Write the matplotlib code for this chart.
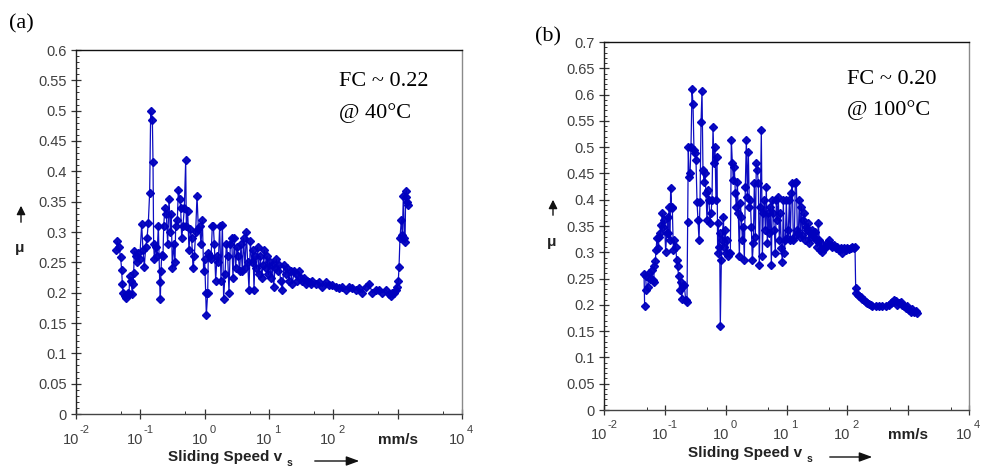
import numpy as np
import matplotlib
matplotlib.use('Agg')
import matplotlib.pyplot as plt
from matplotlib.ticker import MultipleLocator, FixedLocator, NullFormatter

# --- data (log10 of sliding speed in mm/s, friction coefficient) ---
# (a) FC ~ 0.22 @ 40 C
log_v_a = [
    -1.373, -1.358, -1.332, -1.306, -1.290, -1.280, -1.269, -1.238, -1.218, -1.197,
    -1.176, -1.166, -1.145, -1.124, -1.114, -1.104, -1.093, -1.073, -1.052, -1.031,
    -1.010, -0.979, -0.959, -0.938, -0.917, -0.896, -0.876, -0.855, -0.839, -0.813,
    -0.803, -0.793, -0.782, -0.762, -0.741, -0.720, -0.699, -0.689, -0.679, -0.668,
    -0.648, -0.637, -0.617, -0.596, -0.575, -0.554, -0.534, -0.518, -0.503, -0.482,
    -0.461, -0.451, -0.425, -0.409, -0.389, -0.373, -0.358, -0.337, -0.316, -0.295,
    -0.285, -0.264, -0.244, -0.223, -0.202, -0.181, -0.161, -0.140, -0.119, -0.098,
    -0.078, -0.057, -0.036, -0.016, 0.000, 0.016, 0.026, 0.047, 0.057, 0.078,
    0.098, 0.119, 0.135, 0.150, 0.171, 0.192, 0.212, 0.233, 0.254, 0.275,
    0.295, 0.316, 0.337, 0.358, 0.378, 0.399, 0.420, 0.440, 0.461, 0.482,
    0.503, 0.523, 0.544, 0.565, 0.585, 0.606, 0.627, 0.648, 0.668, 0.689,
    0.710, 0.731, 0.751, 0.767, 0.782, 0.803, 0.824, 0.845, 0.865, 0.886,
    0.907, 0.927, 0.948, 0.969, 0.990, 1.010, 1.031, 1.052, 1.073, 1.093,
    1.114, 1.135, 1.155, 1.181, 1.207, 1.233, 1.259, 1.285, 1.311, 1.337,
    1.363, 1.389, 1.415, 1.440, 1.466, 1.492, 1.518, 1.544, 1.570, 1.596,
    1.622, 1.648, 1.674, 1.725, 1.777, 1.829, 1.881, 1.933, 1.984, 2.036,
    2.088, 2.140, 2.192, 2.244, 2.295, 2.347, 2.399, 2.451, 2.503, 2.554,
    2.606, 2.658, 2.710, 2.762, 2.813, 2.865, 2.891, 2.917, 2.943, 2.969,
    2.995, 3.010, 3.021, 3.036, 3.057, 3.073, 3.088, 3.104, 3.114, 3.124,
    3.135, 3.145, 3.155,
]
mu_a = [
    0.270, 0.285, 0.275, 0.258, 0.237, 0.215, 0.200, 0.195, 0.192, 0.200,
    0.197, 0.227, 0.220, 0.197, 0.215, 0.232, 0.268, 0.260, 0.250, 0.265,
    0.255, 0.313, 0.270, 0.243, 0.275, 0.290, 0.315, 0.365, 0.500, 0.485,
    0.415, 0.280, 0.255, 0.275, 0.260, 0.310, 0.218, 0.190, 0.235, 0.262,
    0.260, 0.310, 0.340, 0.330, 0.280, 0.355, 0.300, 0.330, 0.240, 0.280,
    0.250, 0.310, 0.320, 0.370, 0.355, 0.340, 0.290, 0.310, 0.340, 0.418,
    0.310, 0.335, 0.270, 0.305, 0.290, 0.240, 0.260, 0.300, 0.360, 0.305,
    0.310, 0.280, 0.320, 0.235, 0.255, 0.200, 0.163, 0.200, 0.265, 0.260,
    0.255, 0.310, 0.310, 0.280, 0.220, 0.260, 0.250, 0.310, 0.220, 0.312,
    0.190, 0.230, 0.280, 0.260, 0.200, 0.280, 0.290, 0.225, 0.290, 0.240,
    0.275, 0.260, 0.235, 0.280, 0.235, 0.290, 0.240, 0.300, 0.250, 0.205,
    0.285, 0.250, 0.270, 0.205, 0.260, 0.240, 0.275, 0.230, 0.260, 0.225,
    0.245, 0.270, 0.240, 0.260, 0.230, 0.250, 0.225, 0.245, 0.210, 0.240,
    0.255, 0.235, 0.245, 0.220, 0.205, 0.245, 0.230, 0.240, 0.220, 0.235,
    0.215, 0.235, 0.230, 0.220, 0.235, 0.225, 0.220, 0.225, 0.215, 0.220,
    0.218, 0.215, 0.220, 0.215, 0.218, 0.210, 0.217, 0.212, 0.213, 0.210,
    0.208, 0.210, 0.205, 0.210, 0.207, 0.205, 0.208, 0.200, 0.210, 0.215,
    0.200, 0.205, 0.205, 0.200, 0.205, 0.198, 0.195, 0.200, 0.200, 0.205,
    0.210, 0.220, 0.242, 0.290, 0.320, 0.295, 0.360, 0.290, 0.283, 0.357,
    0.368, 0.350, 0.345,
]

# (b) FC ~ 0.20 @ 100 C
log_v_b = [
    -1.332, -1.342, -1.315, -1.304, -1.282, -1.260, -1.238, -1.216, -1.195, -1.184,
    -1.173, -1.156, -1.145, -1.129, -1.107, -1.090, -1.074, -1.058, -1.041, -1.025,
    -1.008, -0.986, -0.970, -0.953, -0.942, -0.932, -0.915, -0.904, -0.888, -0.877,
    -0.860, -0.844, -0.822, -0.805, -0.789, -0.773, -0.756, -0.740, -0.723, -0.701,
    -0.679, -0.658, -0.636, -0.625, -0.614, -0.603, -0.586, -0.570, -0.553, -0.537,
    -0.521, -0.504, -0.488, -0.471, -0.455, -0.438, -0.422, -0.405, -0.389, -0.373,
    -0.356, -0.340, -0.323, -0.307, -0.290, -0.274, -0.258, -0.241, -0.225, -0.208,
    -0.192, -0.175, -0.159, -0.142, -0.132, -0.121, -0.110, -0.099, -0.088, -0.071,
    -0.055, -0.038, -0.022, -0.005, 0.011, 0.027, 0.044, 0.060, 0.077, 0.093,
    0.110, 0.126, 0.142, 0.159, 0.175, 0.192, 0.208, 0.225, 0.241, 0.258,
    0.274, 0.290, 0.307, 0.323, 0.340, 0.356, 0.373, 0.389, 0.405, 0.422,
    0.438, 0.455, 0.471, 0.488, 0.504, 0.521, 0.537, 0.553, 0.570, 0.586,
    0.603, 0.619, 0.636, 0.652, 0.668, 0.685, 0.701, 0.718, 0.734, 0.751,
    0.767, 0.784, 0.800, 0.816, 0.833, 0.849, 0.866, 0.882, 0.899, 0.915,
    0.932, 0.948, 0.964, 0.981, 0.997, 1.014, 1.030, 1.047, 1.063, 1.079,
    1.096, 1.112, 1.129, 1.145, 1.162, 1.178, 1.195, 1.211, 1.227, 1.244,
    1.260, 1.277, 1.293, 1.310, 1.326, 1.342, 1.359, 1.375, 1.392, 1.408,
    1.425, 1.441, 1.458, 1.474, 1.490, 1.507, 1.523, 1.540, 1.556, 1.573,
    1.589, 1.616, 1.644, 1.671, 1.699, 1.726, 1.753, 1.781, 1.808, 1.836,
    1.863, 1.890, 1.918, 1.945, 1.973, 2.000, 2.027, 2.055, 2.082, 2.110,
    2.126, 2.137, 2.148, 2.170, 2.192, 2.219, 2.247, 2.274, 2.301, 2.329,
    2.356, 2.384, 2.411, 2.466, 2.521, 2.575, 2.630, 2.685, 2.712, 2.740,
    2.767, 2.795, 2.822, 2.849, 2.877, 2.904, 2.932, 2.959, 2.986, 3.014,
    3.041, 3.068, 3.096, 3.123, 3.151,
]
mu_b = [
    0.198, 0.259, 0.254, 0.228, 0.234, 0.261, 0.250, 0.266, 0.247, 0.244,
    0.273, 0.284, 0.304, 0.327, 0.308, 0.330, 0.336, 0.352, 0.374, 0.349,
    0.361, 0.301, 0.336, 0.368, 0.336, 0.387, 0.323, 0.423, 0.387, 0.384,
    0.304, 0.323, 0.311, 0.285, 0.273, 0.254, 0.228, 0.244, 0.212, 0.235,
    0.238, 0.209, 0.206, 0.358, 0.501, 0.444, 0.450, 0.501, 0.610, 0.583,
    0.495, 0.488, 0.476, 0.396, 0.361, 0.323, 0.396, 0.548, 0.607, 0.456,
    0.434, 0.450, 0.412, 0.361, 0.418, 0.399, 0.355, 0.374, 0.399, 0.539,
    0.469, 0.501, 0.399, 0.482, 0.298, 0.355, 0.311, 0.336, 0.160, 0.285,
    0.323, 0.368, 0.311, 0.342, 0.298, 0.323, 0.292, 0.298, 0.298, 0.514,
    0.469, 0.437, 0.463, 0.412, 0.387, 0.434, 0.374, 0.292, 0.393, 0.368,
    0.323, 0.349, 0.285, 0.425, 0.514, 0.406, 0.491, 0.387, 0.399, 0.349,
    0.285, 0.317, 0.431, 0.330, 0.469, 0.456, 0.431, 0.276, 0.387, 0.533,
    0.292, 0.374, 0.399, 0.342, 0.425, 0.317, 0.374, 0.336, 0.387, 0.276,
    0.399, 0.374, 0.342, 0.298, 0.399, 0.361, 0.406, 0.323, 0.374, 0.308,
    0.282, 0.399, 0.298, 0.323, 0.399, 0.327, 0.342, 0.399, 0.323, 0.412,
    0.432, 0.323, 0.330, 0.432, 0.434, 0.342, 0.336, 0.399, 0.330, 0.387,
    0.333, 0.361, 0.374, 0.323, 0.349, 0.342, 0.355, 0.317, 0.336, 0.330,
    0.342, 0.336, 0.330, 0.339, 0.323, 0.311, 0.355, 0.323, 0.304, 0.317,
    0.301, 0.308, 0.311, 0.317, 0.323, 0.314, 0.311, 0.314, 0.308, 0.311,
    0.304, 0.308, 0.298, 0.308, 0.304, 0.308, 0.306, 0.308, 0.310, 0.308,
    0.310, 0.233, 0.222, 0.219, 0.216, 0.214, 0.211, 0.209, 0.206, 0.203,
    0.201, 0.200, 0.198, 0.197, 0.198, 0.197, 0.198, 0.200, 0.203, 0.206,
    0.209, 0.208, 0.200, 0.203, 0.206, 0.200, 0.197, 0.194, 0.197, 0.190,
    0.187, 0.192, 0.187, 0.189, 0.185,
]

decades = [-2, -1, 0, 1, 2, 3, 4]
exp_labels = ['-2', '-1', '0', '1', '2', None, '4']   # 10^3 slot carries the unit
ymax_a, ymax_b = 0.6, 0.7

W, H = 981, 469
BLUE = '#0000BE'
GREY = '#404040'
SANS = ['Liberation Sans', 'DejaVu Sans']
SERIF = ['Liberation Serif', 'DejaVu Serif']

fig = plt.figure(figsize=(W / 100, H / 100), dpi=100)


def fpos(x, y):
    """figure pixel (from top-left) -> figure fraction"""
    return x / W, 1 - y / H


def make_panel(rect, log_v, mu, ymax, lab_off, unit_off):
    ax = fig.add_axes(rect)
    v = 10 ** np.asarray(log_v)
    ax.plot(v, mu, color=BLUE, lw=0.9, marker='D', ms=4.5, mec=BLUE, mfc=BLUE, alpha=0.95)
    ax.set_xscale('log')
    ax.set_xlim(1e-2, 1e4)
    ax.set_ylim(0, ymax)

    ax.xaxis.set_major_locator(FixedLocator([10.0 ** d for d in decades]))
    ax.xaxis.set_minor_locator(FixedLocator([5 * 10.0 ** d for d in decades[:-1]]))
    ax.xaxis.set_major_formatter(NullFormatter())
    ax.xaxis.set_minor_formatter(NullFormatter())
    ax.yaxis.set_major_locator(MultipleLocator(0.05))
    ax.yaxis.set_minor_locator(MultipleLocator(0.01))
    ax.set_yticklabels([('%.2f' % t).rstrip('0').rstrip('.') if t > 0 else '0'
                        for t in ax.get_yticks()])

    ax.tick_params(axis='both', which='major', direction='inout', length=7, width=0.9,
                   color='#333333', labelsize=10.5, labelcolor=GREY, pad=3)
    ax.tick_params(axis='both', which='minor', direction='in', length=2.5, width=0.7,
                   color='#333333')
    ax.tick_params(top=False, right=False)
    for lab in ax.get_yticklabels():
        lab.set_fontfamily(SANS)

    ax.spines['top'].set_color('#111111')
    ax.spines['left'].set_color('#222222')
    ax.spines['bottom'].set_color('#444444')
    ax.spines['right'].set_color('#8a8a8a')
    for s in ax.spines.values():
        s.set_linewidth(1.0)

    # decade labels as "10" with a raised exponent
    for d, e in zip(decades, exp_labels):
        if e is None:
            ax.annotate('mm/s', xy=(10.0 ** d, 0), xycoords=('data', 'axes fraction'),
                        xytext=(0, unit_off), textcoords='offset pixels',
                        ha='center', va='center', fontsize=11, fontweight='bold',
                        color='#222222', family=SANS)
            continue
        ax.annotate('10', xy=(10.0 ** d, 0), xycoords=('data', 'axes fraction'),
                    xytext=(-5, lab_off), textcoords='offset pixels',
                    ha='center', va='center', fontsize=10.5, color=GREY, family=SANS)
        ax.annotate(e, xy=(10.0 ** d, 0), xycoords=('data', 'axes fraction'),
                    xytext=(8, lab_off + 10), textcoords='offset pixels',
                    ha='center', va='center', fontsize=8, color=GREY, family=SANS)
    return ax


ax_a = make_panel([76 / W, 1 - 414 / H, (462 - 76) / W, (414 - 50) / H],
                  log_v_a, mu_a, ymax_a, -26, -26)
ax_b = make_panel([604 / W, 1 - 410 / H, (969 - 604) / W, (410 - 42) / H],
                  log_v_b, mu_b, ymax_b, -25, -25)

# panel letters
fig.text(*fpos(9, 24), '(a)', fontsize=16, family=SERIF, ha='left', va='center')
fig.text(*fpos(535, 37), '(b)', fontsize=16, family=SERIF, ha='left', va='center')

# condition annotations
fig.text(*fpos(339, 82), 'FC ~ 0.22', fontsize=16, family=SERIF, ha='left', va='center')
fig.text(*fpos(339, 113), '@ 40°C', fontsize=16, family=SERIF, ha='left', va='center')
fig.text(*fpos(847, 80), 'FC ~ 0.20', fontsize=16, family=SERIF, ha='left', va='center')
fig.text(*fpos(847, 110), '@ 100°C', fontsize=16, family=SERIF, ha='left', va='center')

# axis labels with the arrow glyphs of the original
for (mx, my, a0, a1), (sx, sy, b0, b1) in [
        ((20, 248, 225, 203), (225, 457, 312, 362)),
        ((552, 242, 218, 197), (745, 453, 827, 875))]:
    fig.text(*fpos(mx, my), 'μ', fontsize=11, fontweight='bold', family=SANS,
             ha='center', va='center', color='#222222')
    fig.add_artist(matplotlib.patches.FancyArrowPatch(
        fpos(mx + 1, a0), fpos(mx + 1, a1), transform=fig.transFigure,
        arrowstyle='-|>,head_length=4,head_width=2', mutation_scale=1.3,
        color='#111111', lw=1.0))
    fig.text(*fpos(sx, sy), 'Sliding Speed v', fontsize=11, fontweight='bold',
             family=SANS, ha='center', va='center', color='#222222')
    fig.text(*fpos(sx + 62, sy + 6), 's', fontsize=7.5, fontweight='bold',
             family=SANS, ha='left', va='center', color='#222222')
    fig.add_artist(matplotlib.patches.FancyArrowPatch(
        fpos(b0, sy + 4), fpos(b1, sy + 4), transform=fig.transFigure,
        arrowstyle='-|>,head_length=6,head_width=2.2', mutation_scale=1.3,
        color='#111111', lw=1.0))

fig.savefig('out.png', dpi=100)
